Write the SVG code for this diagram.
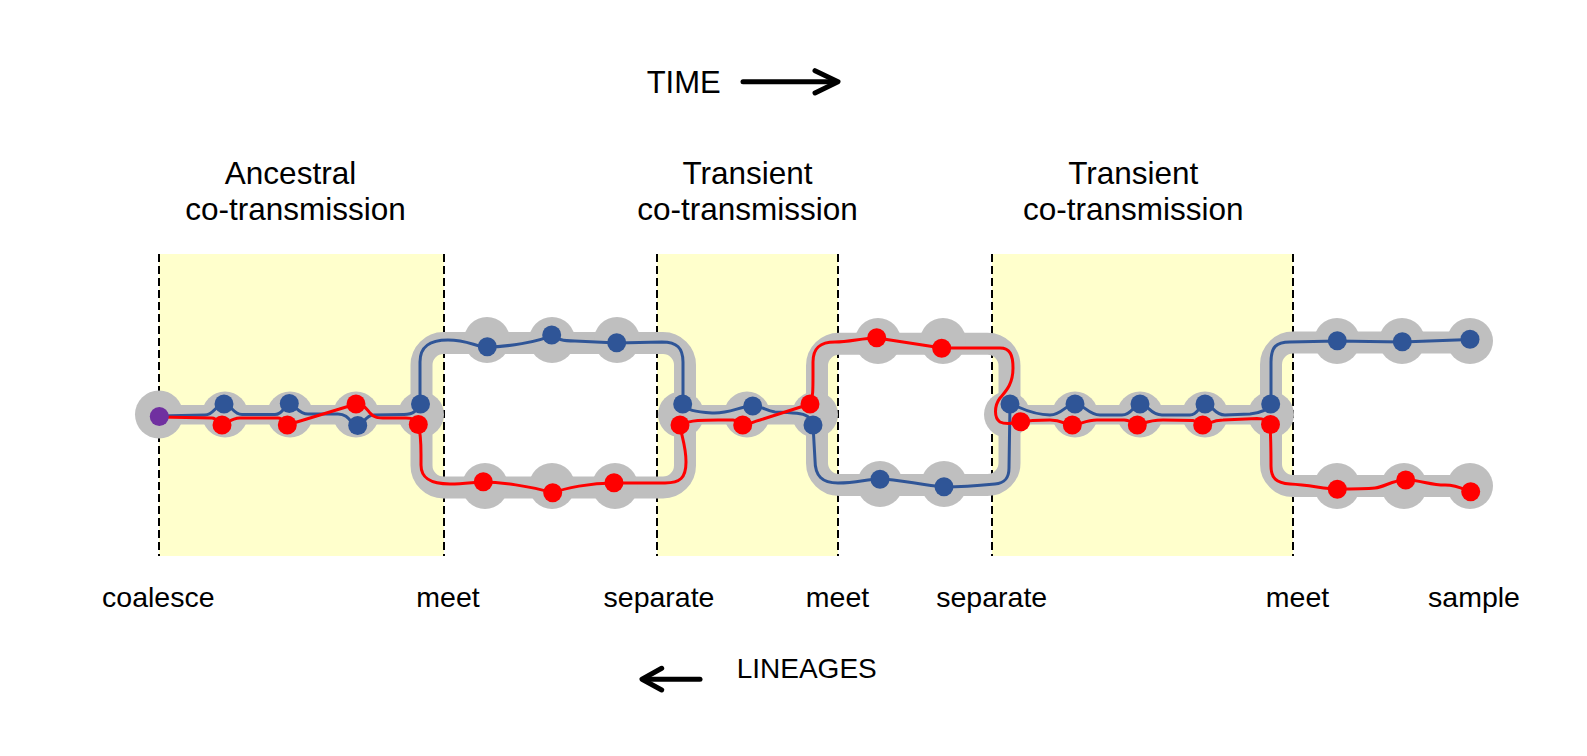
<svg xmlns="http://www.w3.org/2000/svg" width="1587" height="756" viewBox="0 0 1587 756">
<style>
.zone{fill:#FFFFCC}
.dash{stroke:#000;stroke-width:2;stroke-dasharray:8,4;fill:none}
.track{fill:none;stroke:#BFBFBF;stroke-width:22}
.gc{fill:#BFBFBF}
.band{fill:#BFBFBF}
.bl{fill:none;stroke:#2F5597;stroke-width:3;stroke-linecap:round;stroke-linejoin:round}
.rl{fill:none;stroke:#FF0000;stroke-width:3;stroke-linecap:round;stroke-linejoin:round}
.b{fill:#2F5597}
.r{fill:#FF0000}
.p{fill:#7030A0}
.t{font-family:"Liberation Sans",Arial,sans-serif;fill:#000}
.top{font-size:31.5px;text-anchor:middle}
.bot{font-size:28.5px;text-anchor:middle}
.arr{fill:none;stroke:#000;stroke-width:5;stroke-linecap:round;stroke-linejoin:round}
</style>
<rect width="1587" height="756" fill="#FFFFFF"/>
<g id="zones">
<rect class="zone" x="159" y="254" width="285" height="302"/>
<rect class="zone" x="657" y="254" width="181" height="302"/>
<rect class="zone" x="992" y="254" width="301" height="302"/>
<line class="dash" x1="159" y1="254" x2="159" y2="556"/>
<line class="dash" x1="444" y1="254" x2="444" y2="556"/>
<line class="dash" x1="657" y1="254" x2="657" y2="556"/>
<line class="dash" x1="838" y1="254" x2="838" y2="556"/>
<line class="dash" x1="992" y1="254" x2="992" y2="556"/>
<line class="dash" x1="1293" y1="254" x2="1293" y2="556"/>
</g>
<g id="labels" class="t">
<text class="top" x="290.5" y="183.5">Ancestral</text>
<text class="top" x="295.5" y="219.5">co-transmission</text>
<text class="top" x="747.5" y="184">Transient</text>
<text class="top" x="747.5" y="220">co-transmission</text>
<text class="top" x="1133.3" y="184">Transient</text>
<text class="top" x="1133.3" y="220">co-transmission</text>
<text class="bot" x="158.3" y="607">coalesce</text>
<text class="bot" x="448" y="607">meet</text>
<text class="bot" x="659" y="607">separate</text>
<text class="bot" x="837.5" y="607">meet</text>
<text class="bot" x="991.7" y="607">separate</text>
<text class="bot" x="1297.5" y="607">meet</text>
<text class="bot" x="1474" y="607">sample</text>
<text x="646.7" y="93.3" font-size="31px">TIME</text>
<text x="736.7" y="678.3" font-size="28px">LINEAGES</text>
</g>
<g id="arrows">
<line class="arr" x1="743" y1="81.7" x2="836" y2="81.7"/>
<polyline class="arr" points="815,70.7 838,81.7 815,93"/>
<line class="arr" x1="644" y1="679.3" x2="700" y2="679.3"/>
<polyline class="arr" points="661.7,668.3 642,679.3 661.7,690"/>
</g>
<g id="tracks">
<rect class="band" x="159" y="405" width="262" height="19.5"/>
<rect class="band" x="681" y="405" width="134" height="19.5"/>
<rect class="band" x="1007" y="405" width="264" height="19.5"/>
<rect class="track" x="421.5" y="343" width="263.5" height="144.5" rx="22"/>
<rect class="track" x="817" y="343.7" width="192.5" height="141.3" rx="22"/>
<path class="track" d="M1470,342.5 L1293,342.5 A22,22 0 0 0 1271,364.5 L1271,464 A22,22 0 0 0 1293,486 L1470,486"/>
<circle class="gc" cx="159" cy="414.5" r="24"/>
<circle class="gc" cx="225" cy="414.5" r="23"/>
<circle class="gc" cx="290" cy="414.5" r="23"/>
<circle class="gc" cx="356" cy="414.5" r="23"/>
<circle class="gc" cx="421" cy="414.5" r="23"/>
<circle class="gc" cx="681" cy="414.5" r="23"/>
<circle class="gc" cx="747" cy="414.5" r="23"/>
<circle class="gc" cx="815" cy="414.5" r="23"/>
<circle class="gc" cx="1007" cy="414.5" r="23"/>
<circle class="gc" cx="1075" cy="414.5" r="23"/>
<circle class="gc" cx="1140" cy="414.5" r="23"/>
<circle class="gc" cx="1205" cy="414.5" r="23"/>
<circle class="gc" cx="1271" cy="414.5" r="23"/>
<circle class="gc" cx="487" cy="340" r="23"/>
<circle class="gc" cx="552" cy="340" r="23"/>
<circle class="gc" cx="617" cy="340" r="23"/>
<circle class="gc" cx="485" cy="486" r="23"/>
<circle class="gc" cx="552" cy="486" r="23"/>
<circle class="gc" cx="615" cy="486" r="23"/>
<circle class="gc" cx="878" cy="341" r="23"/>
<circle class="gc" cx="943" cy="341" r="23"/>
<circle class="gc" cx="880" cy="484" r="23"/>
<circle class="gc" cx="944" cy="484" r="23"/>
<circle class="gc" cx="1337" cy="341" r="23"/>
<circle class="gc" cx="1402" cy="341" r="23"/>
<circle class="gc" cx="1470" cy="341" r="23"/>
<circle class="gc" cx="1337" cy="486" r="23"/>
<circle class="gc" cx="1404" cy="486" r="23"/>
<circle class="gc" cx="1470" cy="486" r="23"/>
</g>
<g id="connectors">
<path class="bl" d="M159,416 L205,415 C214,415 216,404 224,404 C231,404 233,414.5 242,414.5 L275,414.5 C284,414.5 284,404 289,404 C295,404 298,414 308,414 L338,414 C350,414 351,426 358,426 C364,426 364,415 374,415 L404,414.5 C414,414.5 417,410 420,404 L420,362 C420,346 430,340 448,340 C468,340 476,347 487,347 C505,347 540,342 552,335 C557,339 562,341 575,341 L617,343 L662,342 C677,342 683,348 683,362 L683,404 C686,410 695,412 712,413 C730,414 740,406 753,406 C762,406 766,411 775,412 C795,413 806,413 809,418 C811,421 812,423 813,425 L815,460 C815,476 822,483 838,483 C858,483 866,479 880,479 C898,479 920,485 944,487 C960,487 985,485 995,484 C1005,483 1009,478 1009,468 L1010,404 C1014,404 1030,415 1050,415 C1062,415 1066,404 1075,404 C1084,404 1088,415 1100,415 L1122,415 C1132,415 1134,404 1140,404 C1148,404 1150,415 1162,415 L1190,415 C1198,415 1200,404 1205,404 C1212,404 1214,415 1225,415 L1250,414 C1262,413 1268,410 1271,404 L1271,362 C1271,347 1276,342 1290,342 L1337,341 L1402,342 L1470,339.5"/>
<path class="rl" d="M159,417 L212,418 C218,418 218,425 222,425 C227,425 230,418 240,418 L278,418 C284,418 284,425 287,425 L356,404 C363,404 366,408 370,413 C374,418 378,418 386,418 L406,418 C414,418 417,421 418,424 C420,430 421,440 421,455 L421,465 C421,478 430,484 450,484 C465,484 475,482 483,482 C500,482 530,486 553,493 C565,488 590,483 614,483 L665,483 C680,483 686,478 686,462 C686,445 681,435 680,425 C690,420 700,419.5 733,420 C738,420 740,425 743,425 C748,425 752,422 760,420 L810,404 C813,398 813,390 813,375 L813,362 C813,348 820,342 835,342 C850,342 862,338 877,338 L942,348 L1000,348 C1010,348 1013,355 1013,368 C1013,385 1005,392 1000,398 C994,406 994,418 1000,422 C1006,425 1015,423 1021,422 C1030,420 1040,420 1050,420 C1062,420 1066,425 1072,425 C1080,425 1085,420 1097,420 L1124,420 C1132,420 1134,425 1137,425 C1142,425 1146,420 1163,420 L1193,420.5 C1198,421 1200,425 1203,425 C1208,425 1212,420 1223,420 L1257,418.5 C1264,418.5 1268,421 1270,425 C1271,440 1271,455 1271,466 C1271,478 1276,483 1290,484 C1310,485 1325,489 1337,489 C1355,489 1365,489 1375,488 C1385,487 1392,480 1406,480 C1420,480 1430,485 1445,485 C1458,485 1465,490 1471,492"/>
</g>
<g id="n-coalesce"><circle class="p" cx="159.3" cy="416.5" r="9.5"/></g>
<g id="n-a1"><circle class="b" cx="224" cy="404" r="9.5"/><circle class="r" cx="222" cy="425" r="9.5"/></g>
<g id="n-a2"><circle class="b" cx="289.3" cy="403.5" r="9.5"/><circle class="r" cx="287.3" cy="425" r="9.5"/></g>
<g id="n-a3"><circle class="b" cx="357.7" cy="425.5" r="9.5"/><circle class="r" cx="356" cy="404" r="9.5"/></g>
<g id="n-meet1"><circle class="b" cx="420.5" cy="404" r="9.5"/><circle class="r" cx="418.3" cy="424.5" r="9.5"/></g>
<g id="n-l1-top"><circle class="b" cx="487.3" cy="346.7" r="9.5"/><circle class="b" cx="551.7" cy="335" r="9.5"/><circle class="b" cx="616.7" cy="342.7" r="9.5"/></g>
<g id="n-l1-bot"><circle class="r" cx="483.3" cy="481.7" r="9.5"/><circle class="r" cx="552.7" cy="492.7" r="9.5"/><circle class="r" cx="614" cy="482.7" r="9.5"/></g>
<g id="n-sep1"><circle class="b" cx="682.7" cy="404" r="9.5"/><circle class="r" cx="680" cy="425" r="9.5"/></g>
<g id="n-t1"><circle class="b" cx="752.7" cy="406" r="9.5"/><circle class="r" cx="742.7" cy="425" r="9.5"/></g>
<g id="n-meet2"><circle class="r" cx="810" cy="404" r="9.5"/><circle class="b" cx="813" cy="425" r="9.5"/></g>
<g id="n-l2-top"><circle class="r" cx="876.7" cy="337.7" r="9.5"/><circle class="r" cx="941.7" cy="348.3" r="9.5"/></g>
<g id="n-l2-bot"><circle class="b" cx="880" cy="479.3" r="9.5"/><circle class="b" cx="944" cy="486.7" r="9.5"/></g>
<g id="n-sep2"><circle class="b" cx="1010" cy="404" r="9.5"/><circle class="r" cx="1020.7" cy="421.7" r="9.5"/></g>
<g id="n-t2a"><circle class="b" cx="1075" cy="404" r="9.5"/><circle class="r" cx="1072.3" cy="425" r="9.5"/></g>
<g id="n-t2b"><circle class="b" cx="1140" cy="404" r="9.5"/><circle class="r" cx="1137.3" cy="425" r="9.5"/></g>
<g id="n-t2c"><circle class="b" cx="1205" cy="404" r="9.5"/><circle class="r" cx="1202.7" cy="425" r="9.5"/></g>
<g id="n-meet3"><circle class="b" cx="1270.7" cy="404" r="9.5"/><circle class="r" cx="1270.5" cy="424.5" r="9.5"/></g>
<g id="n-sample-top"><circle class="b" cx="1337.3" cy="340.7" r="9.5"/><circle class="b" cx="1402.3" cy="341.7" r="9.5"/><circle class="b" cx="1470" cy="339.3" r="9.5"/></g>
<g id="n-sample-bot"><circle class="r" cx="1337.3" cy="489.3" r="9.5"/><circle class="r" cx="1405.7" cy="480" r="9.5"/><circle class="r" cx="1470.7" cy="491.7" r="9.5"/></g>
</svg>
